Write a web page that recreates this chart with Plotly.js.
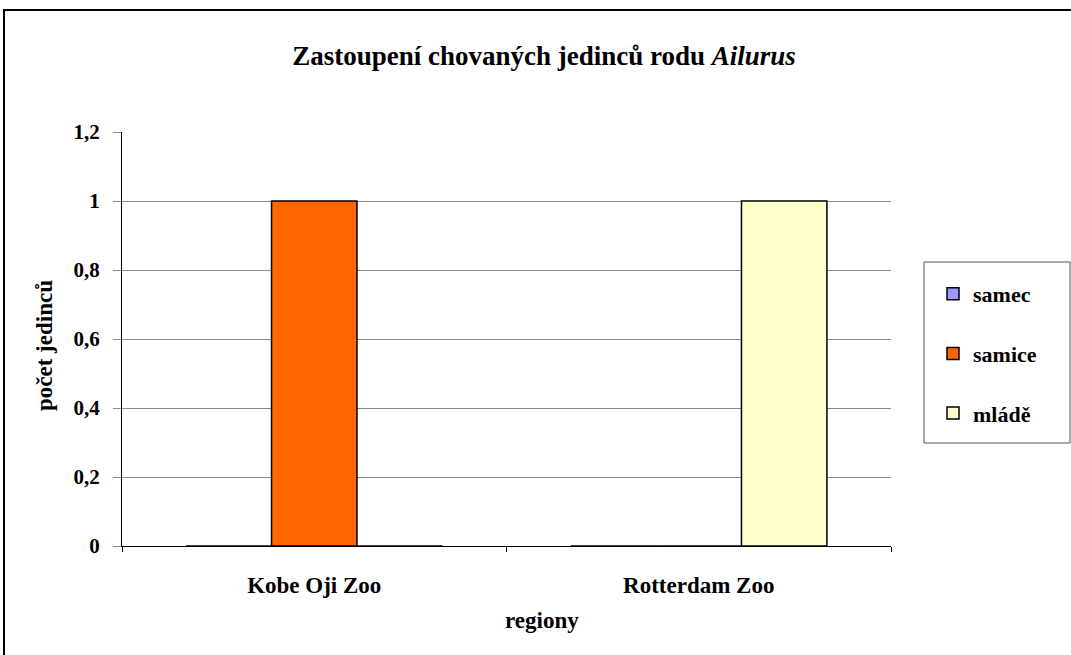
<!DOCTYPE html>
<html>
<head>
<meta charset="utf-8">
<script src="https://cdn.plot.ly/plotly-3.0.1.min.js"></script>
<style>
  html, body { margin: 0; padding: 0; background: #ffffff; }
  #chart { width: 1071px; height: 655px; }
</style>
</head>
<body>
<div id="chart"></div>
<script>
// Data
const categories = ["Kobe Oji Zoo", "Rotterdam Zoo"];
const seriesNames = ["samec", "samice", "mládě"];
const samec = [0, 0];
const samice = [1, 0];
const mlade = [0, 1];
const yTicks = [0, 0.2, 0.4, 0.6, 0.8, 1, 1.2];

const seriesValues = [samec, samice, mlade];
const seriesColors = ["#9999FF", "#FF6600", "#FFFFCC"];

const FONT = "Liberation Serif, Times New Roman, serif";

// Plot area geometry (px)
const W = 1071, H = 655;
const L = 122, R = 891, T = 132, B = 546;
const pw = R - L, ph = B - T;
const px = x => (x - L) / pw;
const py = y => (B - y) / ph;

const traces = seriesNames.map((name, i) => ({
  type: "bar",
  name: name,
  x: categories,
  y: seriesValues[i],
  legendgroup: name,
  marker: {
    color: seriesColors[i],
    line: { color: "#000000", width: 1.5 }
  },
  hoverinfo: "x+y+name"
}));

const layout = {
  width: W,
  height: H,
  margin: { l: L, r: W - R, t: T, b: H - B, pad: 0 },
  paper_bgcolor: "#ffffff",
  plot_bgcolor: "#ffffff",
  separators: ", ",
  barmode: "group",
  bargap: 1 / 3,
  bargroupgap: 0,
  font: { family: FONT, size: 22, color: "#000000", weight: "bold" },
  title: {
    text: "<b>Zastoupení chovaných jedinců rodu <i>Ailurus</i></b>",
    font: { family: FONT, size: 27, color: "#000000", weight: "bold" },
    xref: "paper",
    x: px(544),
    xanchor: "center",
    yref: "container",
    y: 1 - 56 / H,
    yanchor: "middle"
  },
  xaxis: {
    type: "category",
    showgrid: false,
    showline: true,
    linecolor: "#000000",
    linewidth: 1,
    ticks: "outside",
    tickson: "boundaries",
    ticklen: 5,
    tickcolor: "#000000",
    tickfont: { family: FONT, size: 23, color: "#000000", weight: "bold" },
    ticklabelstandoff: 18,
    zeroline: false,
    fixedrange: true
  },
  yaxis: {
    range: [0, 1.2],
    tickvals: yTicks,
    showgrid: true,
    gridcolor: "#888888",
    gridwidth: 1,
    showline: true,
    linecolor: "#000000",
    linewidth: 1,
    ticks: "outside",
    ticklen: 8,
    tickcolor: "#888888",
    tickfont: { family: FONT, size: 21, color: "#000000", weight: "bold" },
    ticklabelstandoff: 9,
    zeroline: false,
    fixedrange: true
  },
  showlegend: true,
  legend: {
    x: px(933),
    xanchor: "left",
    y: py(273),
    yanchor: "top",
    bgcolor: "rgba(0,0,0,0)",
    borderwidth: 0,
    traceorder: "grouped",
    tracegroupgap: 28,
    font: { family: FONT, size: 22, color: "#000000", weight: "bold" }
  },
  annotations: [
    {
      text: "<b>počet jedinců</b>",
      textangle: -90,
      xref: "paper", yref: "paper",
      x: px(44), y: py(346),
      xanchor: "center", yanchor: "middle",
      showarrow: false,
      font: { family: FONT, size: 23, color: "#000000", weight: "bold" }
    },
    {
      text: "<b>regiony</b>",
      xref: "paper", yref: "paper",
      x: px(542), y: py(620),
      xanchor: "center", yanchor: "middle",
      showarrow: false,
      font: { family: FONT, size: 23, color: "#000000", weight: "bold" }
    }
  ],
  shapes: [
    {
      type: "rect", xref: "paper", yref: "paper",
      x0: px(4), x1: px(1085), y0: py(670), y1: py(10),
      line: { color: "#000000", width: 2 },
      fillcolor: "rgba(0,0,0,0)",
      layer: "below"
    },
    {
      type: "rect", xref: "paper", yref: "paper",
      x0: px(924), x1: px(1070), y0: py(443), y1: py(262),
      line: { color: "#555555", width: 1 },
      fillcolor: "rgba(0,0,0,0)"
    }
  ]
};

Plotly.newPlot("chart", traces, layout, { displayModeBar: false, staticPlot: true });
</script>
</body>
</html>
